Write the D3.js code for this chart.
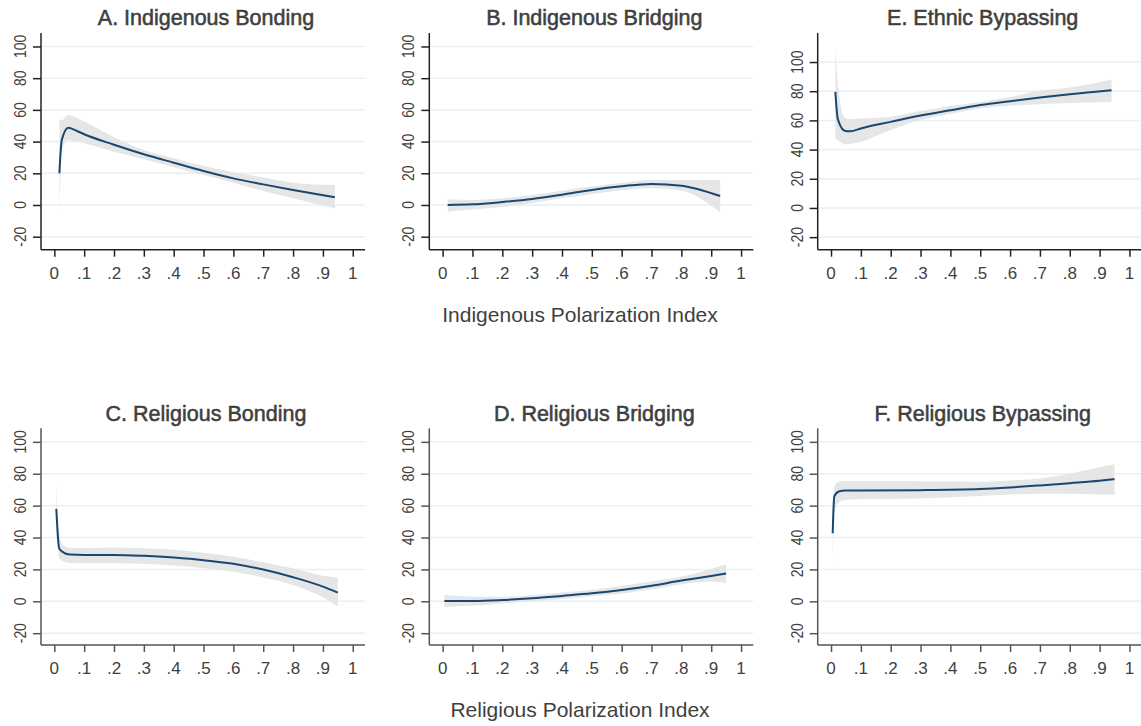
<!DOCTYPE html>
<html><head><meta charset="utf-8">
<script src="https://cdn.jsdelivr.net/npm/d3@7"></script>
<style>
html,body{margin:0;padding:0;background:#fff;}
svg text{font-family:"Liberation Sans",Arial,Helvetica,sans-serif;}
</style></head>
<body>
<svg id="chart" width="1141" height="726"></svg>
<script>
// ---- Data ----
const titles = ["A. Indigenous Bonding","B. Indigenous Bridging","E. Ethnic Bypassing",
                "C. Religious Bonding","D. Religious Bridging","F. Religious Bypassing"];
const xAxisTitles = ["Indigenous Polarization Index","Religious Polarization Index"];
const xTicks = [0,0.1,0.2,0.3,0.4,0.5,0.6,0.7,0.8,0.9,1];
const xTickLabels = ["0",".1",".2",".3",".4",".5",".6",".7",".8",".9","1"];
const yTicks = [-20,0,20,40,60,80,100];

// Panel A
const aX  = [0.017,0.025,0.047,0.06,0.1,0.2,0.3,0.4,0.5,0.6,0.7,0.8,0.94];
const aY  = [20,41,48.8,48,44.6,38,32,26.7,21.5,16.8,13,9.5,4.9];
const aHi = [54,53.6,56.8,56.2,52.6,42.8,34.7,29.5,24.6,20.6,17.3,14.1,12.6];
const aLo = [-8,34.7,41,40.5,38.9,33.6,28.8,23.8,18.9,14.1,8.8,4.2,-2.1];
// Panel B
const bX  = [0.017,0.1,0.2,0.3,0.4,0.5,0.6,0.7,0.8,0.93];
const bY  = [0,0.4,1.9,3.8,6.5,9.5,11.8,13.3,12.2,5.7];
const bHi = [3.6,3.2,4.2,6.3,9,11.6,14,15.8,15.8,15.8];
const bLo = [-4.2,-2.8,-1.3,1.3,4.2,7,9.3,10.5,9,-4.6];
// Panel E
const eX  = [0.0145,0.023,0.048,0.065,0.1,0.2,0.3,0.4,0.5,0.6,0.7,0.8,0.94];
const eY  = [79.6,60.7,52.7,52.5,54.5,59,63.4,67,70.5,73.2,75.7,78,80.7];
const eHi = [110,85,61.6,61,61.3,62.5,66.4,69.8,72.7,76,80.3,82.5,88];
const eLo = [47.7,46.5,43.5,44,45.4,53.4,60.2,64.5,68.2,70,71.1,72,72.7];
// Panel C
const cX  = [0.0067,0.011,0.016,0.026,0.037,0.054,0.1,0.2,0.3,0.4,0.5,0.6,0.7,0.8,0.9,0.95];
const cY  = [58,43.8,33.3,31.2,30,29.3,29.1,29.1,28.5,27.4,25.8,23.5,19.9,15.1,9.2,5.4];
const cHi = [77,50,41.7,36,34.3,33.5,33.5,33.7,33.2,32.3,30.5,28,24.5,20.7,16,14.9];
const cLo = [40,36,27,25.5,24.5,24,23.9,23.9,23.5,22.4,20.8,18.6,15,10.3,2.5,-3.4];
// Panel D
const dX  = [0.006,0.1,0.2,0.3,0.4,0.5,0.6,0.7,0.8,0.9,0.95];
const dY  = [0.2,0.2,0.8,1.9,3.4,5,7.1,9.8,13,15.9,17.4];
const dHi = [4,3,2.8,3.8,5.5,7.3,9.6,12.4,15.5,20.3,23.2];
const dLo = [-3.6,-2.7,-1.3,0,1.4,3.2,4.8,7.5,10.6,12.4,11.3];
// Panel F
const fX  = [0.0056,0.011,0.026,0.048,0.1,0.3,0.5,0.6,0.7,0.8,0.9,0.95];
const fY  = [42.7,65.8,68.9,69.5,69.5,69.7,70.4,71.4,72.7,74.1,75.6,76.6];
const fHi = [60,72,75,75.5,75.5,75.3,75,75.8,77,80,84,86];
const fLo = [20.7,55,62,63.5,64,64.5,66,67,67.5,67.5,67,66.8];

const panelData = [
  {x:aX,y:aY,hi:aHi,lo:aLo},{x:bX,y:bY,hi:bHi,lo:bLo},{x:eX,y:eY,hi:eHi,lo:eLo},
  {x:cX,y:cY,hi:cHi,lo:cLo},{x:dX,y:dY,hi:dHi,lo:dLo},{x:fX,y:fY,hi:fHi,lo:fLo}
];

// ---- Layout ----
const colX = [41, 429.3, 817.7];
const plotW = 324;
const rows = [{top:33,bottom:249.7,titleY:25,tickY:279,axisCol:"#222"},
              {top:428.3,bottom:645,titleY:421,tickY:674,axisCol:"#555"}];
const yDomains = [[-28.2,108.5],[-28.2,108.5],[-28.6,119.9],[-27.4,108.5],[-27.4,108.5],[-27.4,108.5]];
const xDomain = [-0.0446,1.041];

const svg = d3.select("#chart");
const lineColor = "#1a476f", bandColor = "#e4e4e4", gridColor = "#e9f0f3", textColor = "#3f3f3f";

panelData.forEach((pd,i)=>{
  const r = rows[Math.floor(i/3)], c = colX[i%3];
  const x = d3.scaleLinear().domain(xDomain).range([c, c+plotW]);
  const y = d3.scaleLinear().domain(yDomains[i]).range([r.bottom, r.top]);
  const g = svg.append("g");

  // gridlines
  g.selectAll(".grid").data(yTicks).join("line")
    .attr("x1",c+1).attr("x2",c+plotW).attr("y1",d=>y(d)).attr("y2",d=>y(d))
    .attr("stroke",gridColor).attr("stroke-width",1.5);

  const pts = pd.x.map((v,k)=>({x:v,y:pd.y[k],hi:pd.hi[k],lo:pd.lo[k]}));
  g.append("path").datum(pts)
    .attr("d", d3.area().x(d=>x(d.x)).y0(d=>y(d.lo)).y1(d=>y(d.hi)).curve(d3.curveMonotoneX))
    .attr("fill",bandColor).attr("opacity",0.92);
  g.append("path").datum(pts)
    .attr("d", d3.line().x(d=>x(d.x)).y(d=>y(d.y)).curve(d3.curveMonotoneX))
    .attr("fill","none").attr("stroke",lineColor).attr("stroke-width",2);

  // y axis
  const ya = g.append("g").attr("transform",`translate(${c},0)`)
    .call(d3.axisLeft(y).tickValues(yTicks).tickSize(8).tickFormat(""));
  ya.select(".domain").attr("d",`M0,${r.top}V${r.bottom}`).attr("stroke",r.axisCol).attr("stroke-width",1.5);
  ya.selectAll(".tick line").attr("stroke",r.axisCol).attr("stroke-width",1.5);
  g.selectAll(".ylab").data(yTicks).join("text")
    .attr("transform",d=>`translate(${c-15},${y(d)}) rotate(-90) scale(0.82,1)`)
    .attr("text-anchor","middle").attr("font-size",17).attr("fill",textColor)
    .text(d=>d);

  // x axis
  const xa = g.append("g").attr("transform",`translate(0,${r.bottom})`)
    .call(d3.axisBottom(x).tickValues(xTicks).tickSize(7).tickFormat(""));
  xa.select(".domain").attr("d",`M${c},0H${c+plotW}`).attr("stroke",r.axisCol).attr("stroke-width",1.5);
  xa.selectAll(".tick line").attr("stroke",r.axisCol).attr("stroke-width",1.5);
  g.selectAll(".xlab").data(xTicks).join("text")
    .attr("x",d=>x(d)).attr("y",r.tickY).attr("text-anchor","middle")
    .attr("font-size",17).attr("fill",textColor)
    .text((d,k)=>xTickLabels[k]);

  // title
  g.append("text").attr("x",c+165).attr("y",r.titleY).attr("text-anchor","middle")
    .attr("font-size",21.5).attr("fill",textColor)
    .attr("stroke",textColor).attr("stroke-width",0.55)
    .text(titles[i]);
});

// x-axis titles
svg.selectAll(".xtitle").data(xAxisTitles).join("text")
  .attr("x",580).attr("y",(d,k)=>k===0?322:717).attr("text-anchor","middle")
  .attr("font-size",21).attr("fill",textColor).text(d=>d);
</script>
</body></html>
